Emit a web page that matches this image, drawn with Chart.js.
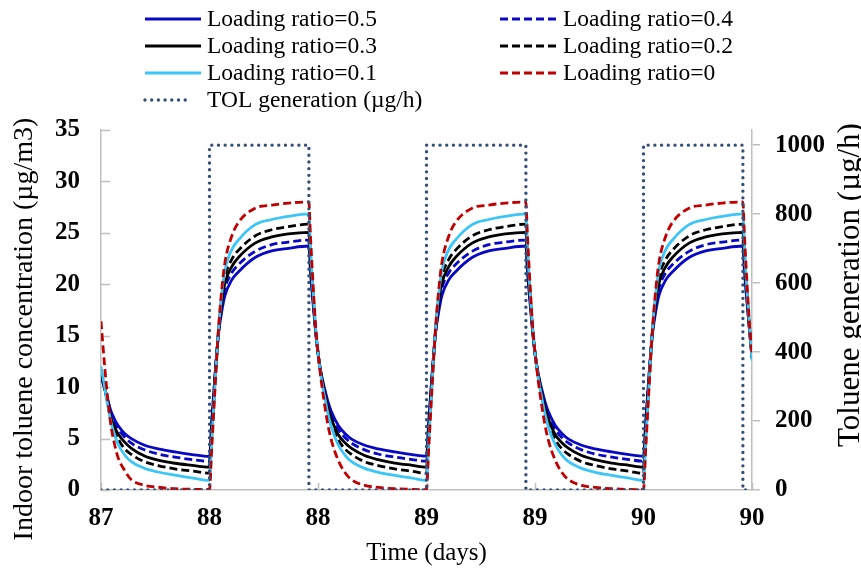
<!DOCTYPE html>
<html>
<head>
<meta charset="utf-8">
<script src="https://cdn.jsdelivr.net/npm/chart.js@4.4.1/dist/chart.umd.min.js"></script>
<style>
html, body { margin: 0; padding: 0; background: #fff; }
#wrap { width: 861px; height: 570px; }
</style>
</head>
<body>
<div id="wrap"><canvas id="myChart"></canvas></div>
<script>
// time (days) for the concentration curves
const days = [
    87.000, 87.017, 87.032, 87.047, 87.062, 87.078, 87.109, 87.140, 87.201, 87.263, 87.340, 87.420, 87.500,
    87.510, 87.525, 87.541, 87.556, 87.571, 87.602, 87.633, 87.710, 87.787, 87.863, 87.958,
    87.965, 87.972, 87.980, 87.988, 88.000, 88.015, 88.031, 88.046, 88.062, 88.093, 88.124, 88.155, 88.215, 88.277, 88.354, 88.434, 88.500,
    88.510, 88.525, 88.541, 88.556, 88.571, 88.602, 88.633, 88.710, 88.787, 88.863, 88.958,
    88.965, 88.972, 88.980, 88.988, 89.000, 89.015, 89.031, 89.046, 89.062, 89.093, 89.124, 89.155, 89.215, 89.277, 89.354, 89.434, 89.500,
    89.510, 89.525, 89.541, 89.556, 89.571, 89.602, 89.633, 89.710, 89.787, 89.863, 89.958,
    89.965, 89.972, 89.980, 89.988, 90.000
];

// indoor toluene concentration (ug/m3) per loading ratio
const ratio05 = [
    11.0, 9.86, 8.7, 7.6, 6.9, 6.3, 5.5, 5.0, 4.35, 4.0, 3.7, 3.45, 3.27,
    6.6, 11.1, 15.1, 17.3, 18.9, 20.4, 21.2, 22.6, 23.25, 23.5, 23.72,
    21.3, 19.4, 17.5, 15.6, 13.3, 11.3, 9.8, 8.6, 7.6, 6.3, 5.5, 4.95, 4.35, 4.0, 3.7, 3.45, 3.3,
    6.6, 11.1, 15.1, 17.3, 18.9, 20.4, 21.2, 22.6, 23.25, 23.5, 23.72,
    21.3, 19.4, 17.5, 15.6, 13.3, 11.3, 9.8, 8.6, 7.6, 6.3, 5.5, 4.95, 4.35, 4.0, 3.7, 3.45, 3.3,
    6.6, 11.1, 15.1, 17.3, 18.9, 20.4, 21.2, 22.6, 23.25, 23.5, 23.72,
    21.3, 19.4, 17.5, 15.6, 12.9
];
const ratio04 = [
    11.2, 9.9, 8.65, 7.45, 6.65, 6.0, 5.15, 4.55, 3.9, 3.5, 3.2, 2.95, 2.78,
    6.2, 10.9, 15.2, 17.8, 19.6, 21.1, 21.9, 23.2, 23.85, 24.1, 24.3,
    21.8, 19.8, 17.8, 15.7, 13.3, 11.2, 9.6, 8.3, 7.25, 5.9, 5.1, 4.55, 3.9, 3.5, 3.2, 2.96, 2.8,
    6.2, 10.9, 15.2, 17.8, 19.6, 21.1, 21.9, 23.2, 23.85, 24.1, 24.3,
    21.8, 19.8, 17.8, 15.7, 13.3, 11.2, 9.6, 8.3, 7.25, 5.9, 5.1, 4.55, 3.9, 3.5, 3.2, 2.96, 2.8,
    6.2, 10.9, 15.2, 17.8, 19.6, 21.1, 21.9, 23.2, 23.85, 24.1, 24.3,
    21.8, 19.8, 17.8, 15.7, 12.9
];
const ratio03 = [
    11.4, 9.9, 8.4, 6.95, 6.15, 5.5, 4.65, 4.05, 3.3, 2.9, 2.6, 2.4, 2.22,
    5.7, 10.6, 15.3, 18.2, 20.1, 21.7, 22.6, 24.0, 24.6, 24.9, 25.05,
    22.4, 20.2, 18.0, 15.8, 13.3, 11.1, 9.4, 8.0, 6.9, 5.4, 4.6, 4.05, 3.35, 2.95, 2.62, 2.4, 2.23,
    5.7, 10.6, 15.3, 18.2, 20.1, 21.7, 22.6, 24.0, 24.6, 24.9, 25.05,
    22.4, 20.2, 18.0, 15.8, 13.3, 11.1, 9.4, 8.0, 6.9, 5.4, 4.6, 4.05, 3.35, 2.95, 2.62, 2.4, 2.23,
    5.7, 10.6, 15.3, 18.2, 20.1, 21.7, 22.6, 24.0, 24.6, 24.9, 25.05,
    22.4, 20.2, 18.0, 15.8, 12.9
];
const ratio02 = [
    11.6, 9.9, 8.3, 6.7, 5.8, 5.0, 4.0, 3.45, 2.75, 2.38, 2.05, 1.85, 1.64,
    5.2, 10.4, 15.4, 18.6, 20.7, 22.4, 23.3, 24.7, 25.3, 25.6, 25.85,
    23.0, 20.6, 18.2, 15.9, 13.3, 11.0, 9.2, 7.7, 6.5, 4.9, 4.0, 3.45, 2.75, 2.38, 2.05, 1.82, 1.62,
    5.2, 10.4, 15.4, 18.6, 20.7, 22.4, 23.3, 24.7, 25.3, 25.6, 25.85,
    23.0, 20.6, 18.2, 15.9, 13.3, 11.0, 9.2, 7.7, 6.5, 4.9, 4.0, 3.45, 2.75, 2.38, 2.05, 1.82, 1.62,
    5.2, 10.4, 15.4, 18.6, 20.7, 22.4, 23.3, 24.7, 25.3, 25.6, 25.85,
    23.0, 20.6, 18.2, 15.9, 12.8
];
const ratio01 = [
    12.0, 10.0, 8.1, 6.5, 5.4, 4.5, 3.4, 2.75, 2.1, 1.75, 1.45, 1.18, 0.93,
    4.6, 10.1, 15.5, 19.0, 21.4, 23.35, 24.3, 25.8, 26.3, 26.6, 26.85,
    23.8, 21.0, 18.4, 16.0, 13.3, 10.9, 9.0, 7.4, 6.1, 4.4, 3.4, 2.75, 2.1, 1.72, 1.42, 1.15, 0.92,
    4.6, 10.1, 15.5, 19.0, 21.4, 23.35, 24.3, 25.8, 26.3, 26.6, 26.85,
    23.8, 21.0, 18.4, 16.0, 13.3, 10.9, 9.0, 7.4, 6.1, 4.4, 3.4, 2.75, 2.1, 1.72, 1.42, 1.15, 0.92,
    4.6, 10.1, 15.5, 19.0, 21.4, 23.35, 24.3, 25.8, 26.3, 26.6, 26.85,
    23.8, 21.0, 18.4, 16.0, 12.6
];
const ratio00 = [
    16.4, 12.0, 8.7, 6.1, 4.5, 3.2, 1.9, 1.0, 0.45, 0.27, 0.12, 0.07, 0.05,
    3.9, 9.7, 15.5, 19.4, 22.1, 24.65, 26.0, 27.4, 27.7, 27.9, 28.0,
    24.8, 22.0, 19.0, 16.2, 13.4, 10.6, 8.2, 6.3, 4.8, 2.9, 1.7, 1.0, 0.45, 0.25, 0.12, 0.06, 0.04,
    3.9, 9.7, 15.5, 19.4, 22.1, 24.65, 26.0, 27.4, 27.7, 27.9, 28.0,
    24.8, 22.0, 19.0, 16.2, 13.4, 10.6, 8.2, 6.3, 4.8, 2.9, 1.7, 1.0, 0.45, 0.25, 0.12, 0.06, 0.04,
    3.9, 9.7, 15.5, 19.4, 22.1, 24.65, 26.0, 27.4, 27.7, 27.9, 28.0,
    24.8, 22.0, 19.0, 16.2, 13.2
];

// toluene generation schedule (ug/h)
const genDays = [87, 87.5, 87.5, 87.958, 87.958, 88.5, 88.5, 88.958, 88.958, 89.5, 89.5, 89.958, 89.958, 90];
const genRate = [0, 0, 1000, 1000, 0, 0, 1000, 1000, 0, 0, 1000, 1000, 0, 0];

// tick labels
const xTickValues = [87, 87.5, 88, 88.5, 89, 89.5, 90];
const xTickLabels = ['87', '88', '88', '89', '89', '90', '90'];
const yTickValues = [0, 5, 10, 15, 20, 25, 30, 35];
const y2TickValues = [0, 200, 400, 600, 800, 1000];

const seriesNames = ['Loading ratio=0.5', 'Loading ratio=0.4', 'Loading ratio=0.3',
    'Loading ratio=0.2', 'Loading ratio=0.1', 'Loading ratio=0', 'TOL generation (\u00b5g/h)'];

const FONT = "'Liberation Serif', 'Times New Roman', serif";
const AXIS_GREY = '#bfbfbf';

function toPoints(xs, ys) {
    return xs.map((x, i) => ({ x: x, y: ys[i] }));
}

function curve(label, values, color, dashed, order) {
    return {
        label: label,
        data: toPoints(days, values),
        borderColor: color,
        backgroundColor: color,
        borderWidth: 2.8,
        borderDash: dashed ? [8, 4] : [],
        pointRadius: 0,
        cubicInterpolationMode: 'monotone',
        yAxisID: 'y',
        order: order
    };
}

const datasets = [
    curve(seriesNames[0], ratio05, '#0808c4', false, 7),
    curve(seriesNames[1], ratio04, '#0808c4', true, 6),
    curve(seriesNames[2], ratio03, '#000000', false, 5),
    curve(seriesNames[3], ratio02, '#000000', true, 4),
    curve(seriesNames[4], ratio01, '#3cc6f7', false, 3),
    curve(seriesNames[5], ratio00, '#c00000', true, 2),
    {
        label: seriesNames[6],
        data: toPoints(genDays, genRate),
        borderColor: '#34507a',
        backgroundColor: '#34507a',
        borderWidth: 3.4,
        borderDash: [0, 6.7],
        borderCapStyle: 'round',
        pointRadius: 0,
        tension: 0,
        yAxisID: 'y2',
        order: 1
    }
];

// legend slots: [line start x, text x, y]
const legendSlots = [
    [145, 207, 19], [500, 563, 19],
    [145, 207, 46], [500, 563, 46],
    [145, 207, 73], [500, 563, 73],
    [145, 207, 100]
];

const decorations = {
    id: 'decorations',
    beforeDatasetsDraw(chart) {
        const { ctx, chartArea, scales } = chart;
        ctx.save();
        ctx.strokeStyle = AXIS_GREY;
        ctx.lineWidth = 1.5;
        ctx.beginPath();
        scales.y.ticks.forEach(t => {
            const py = Math.round(scales.y.getPixelForValue(t.value)) + 0.5;
            ctx.moveTo(chartArea.left, py);
            ctx.lineTo(chartArea.left + 9, py);
        });
        scales.x.ticks.forEach(t => {
            const px = Math.round(scales.x.getPixelForValue(t.value)) + 0.5;
            ctx.moveTo(px, chartArea.bottom);
            ctx.lineTo(px, chartArea.bottom - 7);
        });
        ctx.stroke();
        ctx.restore();
    },
    afterDraw(chart) {
        const { ctx, chartArea } = chart;
        ctx.save();
        ctx.fillStyle = '#000';

        // axis titles
        ctx.textBaseline = 'middle';
        ctx.font = '25px ' + FONT;
        ctx.textAlign = 'center';
        ctx.fillText('Time (days)', (chartArea.left + chartArea.right) / 2, 553);

        ctx.textBaseline = 'alphabetic';
        ctx.font = '28px ' + FONT;
        ctx.save();
        ctx.translate(32, 329);
        ctx.rotate(-Math.PI / 2);
        ctx.fillText('Indoor toluene concentration (\u00b5g/m3)', 0, 0);
        ctx.restore();

        ctx.font = '31px ' + FONT;
        ctx.save();
        ctx.translate(859, 285);
        ctx.rotate(-Math.PI / 2);
        ctx.fillText('Toluene generation (\u00b5g/h)', 0, 0);
        ctx.restore();

        // legend
        ctx.textBaseline = 'middle';
        ctx.font = '23.5px ' + FONT;
        ctx.textAlign = 'left';
        chart.data.datasets.forEach((ds, i) => {
            const [lx, tx, ly] = legendSlots[i];
            ctx.save();
            ctx.strokeStyle = ds.borderColor;
            ctx.lineWidth = i === 6 ? ds.borderWidth : 3;
            ctx.setLineDash(ds.borderDash);
            ctx.lineCap = ds.borderCapStyle || 'butt';
            ctx.beginPath();
            const len = i === 6 ? 46 : 56;
            ctx.moveTo(lx, ly);
            ctx.lineTo(lx + len, ly);
            ctx.stroke();
            ctx.restore();
            ctx.fillText(ds.label, tx, ly + 1);
        });
        ctx.restore();
    }
};

const ctx = document.getElementById('myChart').getContext('2d');
const myChart = new Chart(ctx, {
    type: 'line',
    data: { datasets: datasets },
    options: {
        responsive: true,
        maintainAspectRatio: false,
        animation: false,
        devicePixelRatio: 1,
        layout: { padding: { top: 130, left: 0, right: 0, bottom: 0 } },
        plugins: {
            legend: { display: false },
            tooltip: { enabled: false }
        },
        scales: {
            x: {
                type: 'linear',
                min: 87,
                max: 90,
                afterBuildTicks: s => { s.ticks = xTickValues.map(v => ({ value: v })); },
                afterFit: s => { s.height = 80; },
                grid: { display: false, drawTicks: false },
                border: { color: AXIS_GREY, width: 1.5 },
                ticks: {
                    autoSkip: false,
                    maxRotation: 0,
                    padding: 14,
                    color: '#000',
                    font: { family: FONT, size: 25, weight: 'bold' },
                    callback: (v, i) => xTickLabels[i]
                }
            },
            y: {
                position: 'left',
                min: 0,
                max: 35,
                afterBuildTicks: s => { s.ticks = yTickValues.map(v => ({ value: v })); },
                afterFit: s => { s.width = 101; },
                grid: { display: false, drawTicks: false },
                border: { color: AXIS_GREY, width: 1.5 },
                ticks: {
                    padding: 21,
                    color: '#000',
                    font: { family: FONT, size: 25, weight: 'bold' }
                }
            },
            y2: {
                position: 'right',
                min: 0,
                max: 1044,
                afterBuildTicks: s => { s.ticks = y2TickValues.map(v => ({ value: v })); },
                afterFit: s => { s.width = 109; },
                grid: { display: true, drawOnChartArea: false, drawTicks: true, tickLength: 8, color: AXIS_GREY, lineWidth: 1.5 },
                border: { color: AXIS_GREY, width: 1.5 },
                ticks: {
                    padding: 15,
                    color: '#000',
                    font: { family: FONT, size: 25, weight: 'bold' },
                    callback: v => String(v)
                }
            }
        }
    },
    plugins: [decorations]
});
</script>
</body>
</html>
